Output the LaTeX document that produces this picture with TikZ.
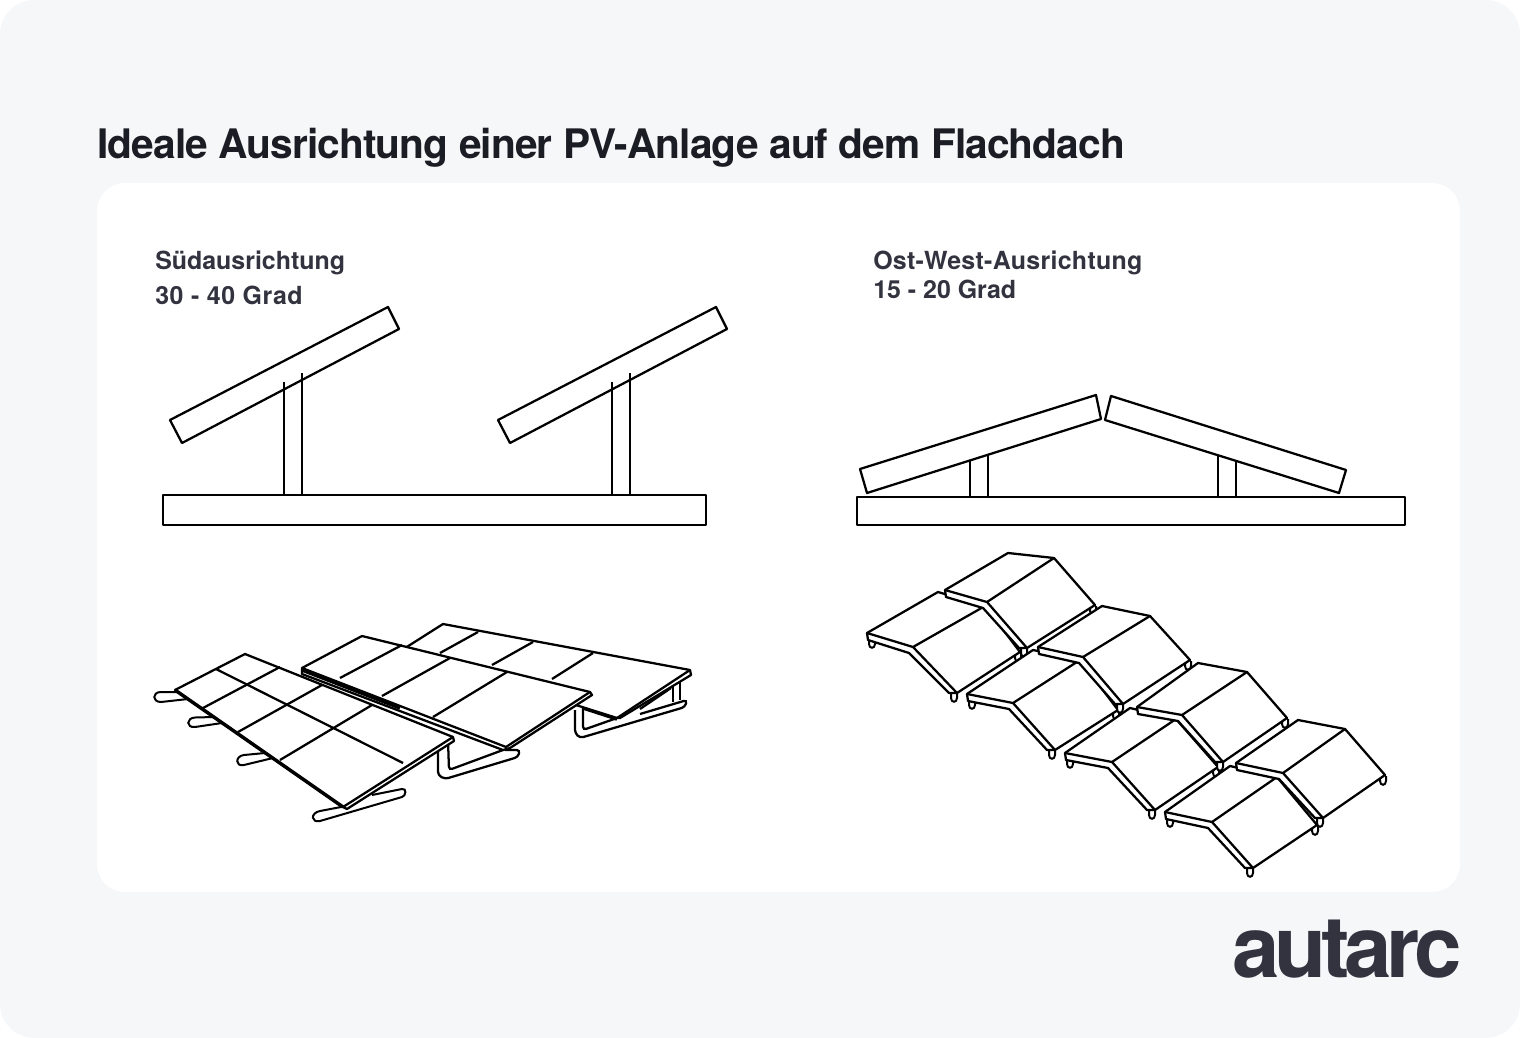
\documentclass[tikz,border=0pt]{standalone}
\usepackage{fontspec}
\setmainfont{TeX Gyre Heros}
\definecolor{grund}{HTML}{F6F7F9}
\definecolor{titelfarbe}{HTML}{1B1D24}
\definecolor{textfarbe}{HTML}{32333F}
\newcommand{\beinchen}[2]{(#1-6, #2) -- (#1-6, #2+5) .. controls (#1-6, #2+10) and (#1, #2+10) .. (#1, #2+5) -- (#1, #2)}
\begin{document}
\begin{tikzpicture}[x=0.75pt, y=-0.75pt,
    linie/.style={draw=black, line width=1.7pt, line join=round},
    dick/.style={draw=black, line width=2.6pt, line join=round},
    fuss/.style={draw=black, fill=white, line width=1.7pt, rounded corners=2.5pt},
    bein/.style={draw=black, fill=white, line width=1.5pt},
    titel/.style={anchor=base west, inner sep=0pt, text=titelfarbe, font=\bfseries\fontsize{30.5pt}{32pt}\selectfont\addfontfeatures{LetterSpace=-2.2}},
    label/.style={anchor=base west, inner sep=0pt, text=textfarbe, font=\bfseries\fontsize{18.7pt}{20pt}\selectfont}]
  \useasboundingbox (0, 0) rectangle (1520, 1038);
  \fill[white] (0, 0) rectangle (1520, 1038);
  \fill[grund, rounded corners=26pt] (0, 0) rectangle (1520, 1038);
  \fill[white, rounded corners=21pt] (97, 183) rectangle (1460, 892);

  \node[titel] (titel) at (97, 159) {Ideale Ausrichtung einer PV-Anlage auf dem Flachdach};
  \node[label] (sued) at (155, 269) {Südausrichtung};
  \node[label] (suedgrad) at (155, 304) {\addfontfeatures{LetterSpace=2.3}30 - 40 Grad};
  \node[label] (ostwest) at (873, 269) {\addfontfeatures{LetterSpace=1.2}Ost-West-Ausrichtung};
  \node[label] (ostwestgrad) at (873, 298) {15 - 20 Grad};
  \node[anchor=base east, inner sep=0pt, text=textfarbe, font=\bfseries\fontsize{64pt}{66pt}\selectfont\addfontfeatures{LetterSpace=-6.3}] (logo) at (1462, 977) {autarc};

  % Suedausrichtung, Seitenansicht
  \foreach \x in {0, 328} {
    \draw[linie] (284+\x, 382) -- (284+\x, 495) (302+\x, 373) -- (302+\x, 495);
    \draw[linie] (170+\x, 420) -- (388+\x, 307) -- (399+\x, 329) -- (182+\x, 443) -- cycle;
  }
  \draw[linie] (163, 495) rectangle (706, 525);

  % Ost-West, Seitenansicht
  \foreach \x in {970, 988, 1218, 1236} {
    \draw[linie] (\x, 450) -- (\x, 497);
  }
  \draw[linie, fill=white] (860, 469) -- (1096, 395) -- (1101, 419) -- (867, 493) -- cycle;
  \draw[linie, fill=white] (1111, 396) -- (1346, 470) -- (1339, 493) -- (1105, 420) -- cycle;
  \draw[linie] (857, 497) rectangle (1405, 525);

  % Suedausrichtung, hintere Reihe
  \draw[fuss] (583, 703) -- (583, 730) -- (617, 718);
  \draw[fuss, fill=none] (575, 710) -- (575, 733) -- (580, 738) -- (685, 707) -- (687, 700) -- (640, 714);
  \draw[linie] (673, 685) -- (673, 702) (680, 682) -- (680, 700);
  \draw[dick] (583, 708) -- (617, 719);
  \draw[linie, fill=white] (443, 624) -- (690, 670) -- (691, 675) -- (620, 718) -- (617, 718) -- (402, 650) -- cycle;
  \draw[linie] (690, 670) -- (617, 718) (671, 688) -- (640, 709);
  \foreach \a/\b/\c/\d in {478/632/440/653, 533/642/492/665, 593/653/552/679} {
    \draw[linie] (\a, \b) -- (\c, \d);
  }

  % Suedausrichtung, mittlere Reihe
  \draw[fuss] (448, 740) -- (449, 770) -- (503, 750);
  \draw[fuss, fill=none] (438, 745) -- (438, 775) -- (445, 779) -- (518, 757) -- (520, 750) -- (505, 750);
  \draw[linie, fill=white] (302, 668) -- (362, 636) -- (590, 692) -- (592, 695) -- (510, 748) -- (503, 750) -- (302, 674) -- cycle;
  \draw[linie] (302, 668) -- (506, 747) -- (590, 692);
  \foreach \a/\b/\c/\d in {402/645/340/678, 450/658/382/696, 507/672/433/717} {
    \draw[linie] (\a, \b) -- (\c, \d);
  }

  % Suedausrichtung, vordere Reihe
  \draw[bein] (178, 692) -- (161, 692) .. controls (152, 692) and (152, 702) .. (161, 702) -- (188, 699);
  \draw[bein] (214, 717) -- (195, 717.5) .. controls (186, 718) and (186, 728) .. (195, 727) -- (222, 723);
  \draw[bein] (265, 753) -- (244, 755) .. controls (235, 756) and (235, 767) .. (244, 765) -- (273, 758);
  \draw[bein] (341, 807) -- (320, 811) .. controls (310, 813) and (311, 823) .. (320, 821) -- (402, 797) .. controls (406, 796) and (407, 788) .. (402, 789) -- (372, 795);
  \draw[linie, fill=white] (245, 654) -- (453, 737) -- (454, 741) -- (347, 809) -- (343, 807) -- (175, 690) -- cycle;
  \draw[linie] (343, 807) -- (453, 737);
  \draw[dick] (175, 690) -- (343, 807);
  \draw[dick] (302, 670) -- (400, 708);
  \draw[linie] (216, 669) -- (403, 763);
  \foreach \a/\b/\c/\d in {280/667/203/708, 322/685/238/732, 372/705/280/760} {
    \draw[linie] (\a, \b) -- (\c, \d);
  }

  % Ost-West, vordere Fuesse
  \foreach \lx/\ly in {867/633, 967/694, 1065/753, 1165/812} {
    \draw[bein] \beinchen{\lx+8}{\ly+6};
  }

  % Ost-West, Module von hinten links nach vorne rechts
  \foreach \lx/\ly/\bx/\by/\rx/\ry/\fx/\fy/\gx/\gy/\hx/\hy in {
      867/633/938/592/985/606/913/647/957/693/1020/652,
      945/590/1008/553/1054/558/987/602/1027/648/1095/605,
      967/694/1033/650/1080/660/1013/703/1055/750/1118/710,
      1038/647/1102/606/1150/616/1083/657/1123/704/1190/660,
      1065/753/1130/708/1176/719/1112/762/1155/810/1218/767,
      1137/707/1198/663/1247/672/1182/715/1223/762/1287/718,
      1165/812/1230/766/1277/777/1212/822/1253/868/1317/825,
      1236/763/1298/720/1345/729/1283/773/1323/818/1385/775} {
    \draw[bein] \beinchen{\gx}{\gy};
    \draw[bein] \beinchen{\hx+1}{\hy+1};
    \draw[linie, fill=white] (\lx, \ly) -- (\bx, \by) -- (\rx, \ry) -- (\hx, \hy) -- (\gx, \gy) -- (\gx-8, \gy) -- (\fx-4, \fy+6) -- (\lx+1, \ly+7) -- cycle;
    \draw[linie] (\lx, \ly) -- (\fx, \fy) -- (\gx, \gy) (\fx, \fy) -- (\rx, \ry);
  }
\end{tikzpicture}
\end{document}
